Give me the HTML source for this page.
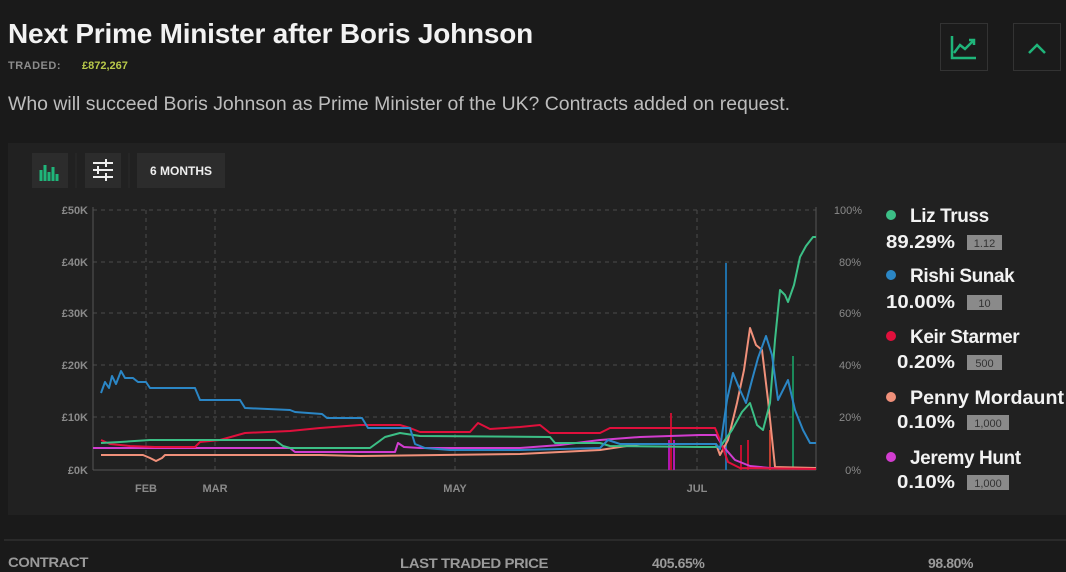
<!DOCTYPE html>
<html><head><meta charset="utf-8"><style>
html,body{margin:0;padding:0;background:#1a1a1a;width:1066px;height:572px;overflow:hidden;font-family:"Liberation Sans",sans-serif}
</style></head><body>
<svg width="1066" height="572" viewBox="0 0 1066 572" xmlns="http://www.w3.org/2000/svg" font-family="Liberation Sans, sans-serif">
<rect width="1066" height="572" fill="#1a1a1a"/>
<text x="8" y="43" font-size="28" font-weight="bold" fill="#f2f2f2" letter-spacing="-0.2" textLength="525" lengthAdjust="spacingAndGlyphs">Next Prime Minister after Boris Johnson</text>
<text x="8" y="69" font-size="11" font-weight="bold" fill="#8c8c8c" letter-spacing="0.5">TRADED:</text>
<text x="82" y="69" font-size="11" font-weight="bold" fill="#b8c94a">£872,267</text>
<text x="8" y="110" font-size="19" fill="#bdbdbd" textLength="782" lengthAdjust="spacingAndGlyphs">Who will succeed Boris Johnson as Prime Minister of the UK? Contracts added on request.</text>
<rect x="940.5" y="23.5" width="47" height="47" fill="#1b1b1b" stroke="#333"/>
<path d="M952 36 V58 H976" stroke="#1fb57a" stroke-width="2.5" fill="none"/>
<path d="M954 53 L960 45 L965 49 L974 40 M969 40 H974 V45" stroke="#1fb57a" stroke-width="2.5" fill="none"/>
<rect x="1013.5" y="23.5" width="47" height="47" fill="#1b1b1b" stroke="#333"/>
<path d="M1029 53 L1037 45 L1045 53" stroke="#1fb57a" stroke-width="2.5" fill="none"/>
<rect x="8" y="143" width="1058" height="372" fill="#212121"/>
<rect x="32" y="153" width="36" height="35" fill="#2c2c2c"/>
<path d="M41 181V170M45 181V165M49 181V172M53 181V167M57 181V174" stroke="#1fb57a" stroke-width="3"/>
<rect x="85" y="153" width="36" height="35" fill="#2c2c2c"/>
<path d="M93 163H113M93 170H113M93 177H113" stroke="#eee" stroke-width="2"/>
<path d="M106 159V167M98 166V174M106 173V181" stroke="#eee" stroke-width="2"/>
<line x1="76" y1="153" x2="76" y2="188" stroke="#2c2c2c"/>
<line x1="129" y1="153" x2="129" y2="188" stroke="#2c2c2c"/>
<rect x="137" y="153" width="88" height="35" fill="#2c2c2c"/>
<text x="181" y="175" font-size="12" font-weight="bold" fill="#eee" text-anchor="middle">6 MONTHS</text>
<g stroke="#4a4a4a" stroke-dasharray="4,4" stroke-width="1">
<line x1="93" y1="210" x2="816" y2="210"/><line x1="93" y1="262" x2="816" y2="262"/><line x1="93" y1="313" x2="816" y2="313"/><line x1="93" y1="365" x2="816" y2="365"/><line x1="93" y1="417" x2="816" y2="417"/>
<line x1="146" y1="210" x2="146" y2="470"/><line x1="215" y1="210" x2="215" y2="470"/><line x1="455" y1="210" x2="455" y2="470"/><line x1="697" y1="210" x2="697" y2="470"/>
</g>
<line x1="93" y1="207" x2="93" y2="470" stroke="#555"/>
<line x1="816" y1="207" x2="816" y2="470" stroke="#555"/>
<line x1="93" y1="470" x2="816" y2="470" stroke="#555"/>
<g font-size="11" font-weight="bold" fill="#8a8a8a" text-anchor="end">
<text x="88" y="214">£50K</text><text x="88" y="266">£40K</text><text x="88" y="317">£30K</text><text x="88" y="369">£20K</text><text x="88" y="421">£10K</text><text x="88" y="474">£0K</text>
</g>
<g font-size="11" fill="#8a8a8a" text-anchor="end">
<text x="862" y="214">100%</text><text x="861" y="266">80%</text><text x="861" y="317">60%</text><text x="861" y="369">40%</text><text x="861" y="421">20%</text><text x="861" y="474">0%</text>
</g>
<g font-size="11" font-weight="bold" fill="#8a8a8a" text-anchor="middle">
<text x="146" y="492">FEB</text><text x="215" y="492">MAR</text><text x="455" y="492">MAY</text><text x="697" y="492">JUL</text>
</g>
<g fill="none" stroke-width="2" stroke-linejoin="round">
<line x1="726" y1="470" x2="726" y2="263" stroke="#1f6fa8"/>
<line x1="793" y1="470" x2="793" y2="356" stroke="#1b8a5a"/>
<line x1="669" y1="470" x2="669" y2="440" stroke="#b018b0"/>
<line x1="674" y1="470" x2="674" y2="440" stroke="#b018b0"/>
<line x1="671" y1="470" x2="671" y2="413" stroke="#c01030"/>
<line x1="770" y1="470" x2="770" y2="430" stroke="#c04030"/>
<line x1="748" y1="470" x2="748" y2="440" stroke="#c01030"/>
<line x1="741" y1="470" x2="741" y2="445" stroke="#c01030"/>
<polyline stroke="#d23dd0" points="93,448 290,448 295,452 395,452 398,443 404,447 420,448 520,448 560,445 600,440 640,437 700,435 716,435 722,445 735,460 750,466 770,468 816,468"/>
<polyline stroke="#f0907a" points="101,455 143,455 150,458 156,461 162,458 165,455 320,455 360,456 520,454 560,452 600,450 640,444 710,444 716,444 720,455 728,440 737,403 744,370 750,328 756,345 762,350 768,400 775,467 816,468"/>
<polyline stroke="#e0103c" points="101,440 110,444 130,446 155,447 195,447 200,442 220,440 245,433 290,431 320,428 360,425 400,425 410,428 420,432 470,432 478,423 490,429 520,427 540,425 550,433 600,433 610,428 700,428 715,428 720,440 728,462 740,468 816,469"/>
<polyline stroke="#3cbf86" points="101,443 120,442 150,440 275,440 283,446 290,448 370,448 385,437 400,433 420,436 550,437 555,443 600,443 610,446 700,447 715,447 720,447 732,430 742,412 750,403 757,425 763,430 770,403 775,340 780,290 785,295 788,302 794,285 800,257 806,246 813,237 816,237"/>
<polyline stroke="#2b86c5" points="101,393 105,382 109,388 112,376 116,384 121,371 125,378 133,378 138,382 146,382 150,388 157,388 195,388 200,400 240,400 245,408 290,410 295,412 322,414 327,418 362,418 368,428 410,428 415,444 425,448 450,450 520,450 560,449 600,448 608,440 620,444 700,444 716,444 720,449 727,400 733,373 740,390 746,403 752,380 758,358 766,336 772,355 778,400 788,380 795,410 803,430 810,443 816,443"/>
</g>
<g font-weight="bold">
<circle cx="891" cy="215" r="5" fill="#3cbf86"/><text x="910" y="222" font-size="19" fill="#f2f2f2" letter-spacing="-0.4">Liz Truss</text>
<text x="886" y="248" font-size="18.5" fill="#f2f2f2" textLength="69" lengthAdjust="spacingAndGlyphs">89.29%</text>
<rect x="967" y="235" width="35" height="15" fill="#8a8a8a"/><text x="984.5" y="247" font-size="11" font-weight="normal" fill="#333" text-anchor="middle">1.12</text>
<circle cx="891" cy="275" r="5" fill="#2b86c5"/><text x="910" y="282" font-size="19" fill="#f2f2f2" letter-spacing="-0.4">Rishi Sunak</text>
<text x="886" y="308" font-size="18.5" fill="#f2f2f2" textLength="69" lengthAdjust="spacingAndGlyphs">10.00%</text>
<rect x="967" y="295" width="35" height="15" fill="#8a8a8a"/><text x="984.5" y="307" font-size="11" font-weight="normal" fill="#333" text-anchor="middle">10</text>
<circle cx="891" cy="336" r="5" fill="#e0103c"/><text x="910" y="343" font-size="19" fill="#f2f2f2" letter-spacing="-0.4">Keir Starmer</text>
<text x="897" y="368" font-size="18.5" fill="#f2f2f2" textLength="58" lengthAdjust="spacingAndGlyphs">0.20%</text>
<rect x="967" y="355" width="35" height="15" fill="#8a8a8a"/><text x="984.5" y="367" font-size="11" font-weight="normal" fill="#333" text-anchor="middle">500</text>
<circle cx="891" cy="397" r="5" fill="#f0907a"/><text x="910" y="404" font-size="19" fill="#f2f2f2" textLength="154" lengthAdjust="spacingAndGlyphs">Penny Mordaunt</text>
<text x="897" y="428" font-size="18.5" fill="#f2f2f2" textLength="58" lengthAdjust="spacingAndGlyphs">0.10%</text>
<rect x="967" y="415" width="42" height="15" fill="#8a8a8a"/><text x="988" y="427" font-size="11" font-weight="normal" fill="#333" text-anchor="middle">1,000</text>
<circle cx="891" cy="457" r="5" fill="#d23dd0"/><text x="910" y="464" font-size="19" fill="#f2f2f2" letter-spacing="-0.4">Jeremy Hunt</text>
<text x="897" y="488" font-size="18.5" fill="#f2f2f2" textLength="58" lengthAdjust="spacingAndGlyphs">0.10%</text>
<rect x="967" y="475" width="42" height="15" fill="#8a8a8a"/><text x="988" y="487" font-size="11" font-weight="normal" fill="#333" text-anchor="middle">1,000</text>
</g>
<line x1="4" y1="540" x2="1066" y2="540" stroke="#2a2a2a" stroke-width="2"/>
<g font-size="14" font-weight="bold" fill="#9a9a9a" letter-spacing="-0.4">
<text x="8" y="567" textLength="80" lengthAdjust="spacingAndGlyphs">CONTRACT</text>
<text x="400" y="568" textLength="148" lengthAdjust="spacingAndGlyphs">LAST TRADED PRICE</text>
<text x="652" y="568">405.65%</text>
<text x="928" y="568">98.80%</text>
</g>
</svg>
</body></html>
